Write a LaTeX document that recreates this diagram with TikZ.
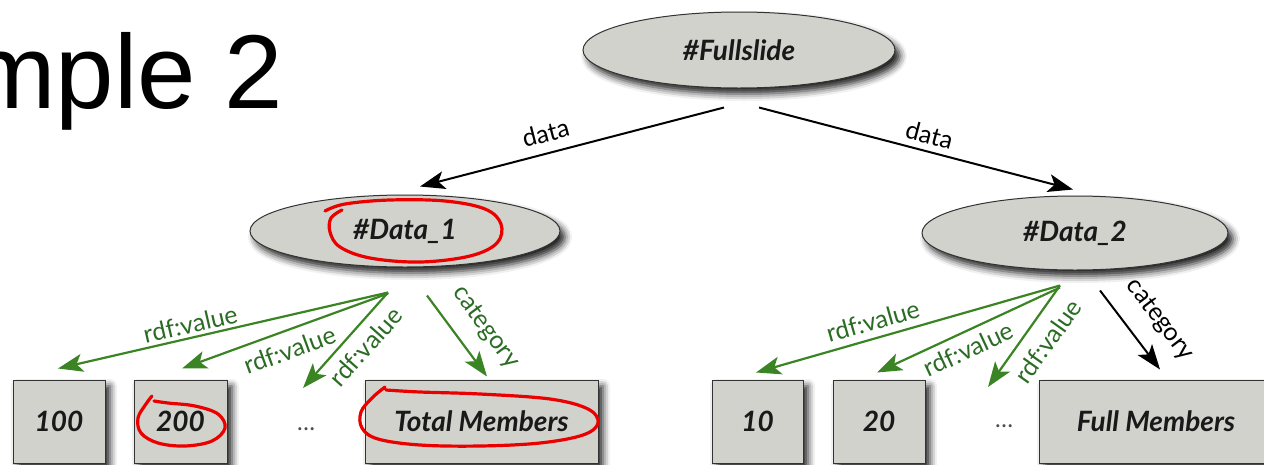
\documentclass[tikz,border=0pt]{standalone}
\usepackage{fontspec}
\setmainfont{Lato}
\newfontfamily\titlefont{Liberation Sans}
\usetikzlibrary{arrows.meta,calc,shapes.geometric,shadows.blur}

\definecolor{nodefill}{RGB}{210,210,205}
\definecolor{edgegreen}{RGB}{58,132,35}
\definecolor{labelgreen}{RGB}{42,108,35}
\definecolor{penred}{RGB}{235,0,0}

\begin{document}
\begin{tikzpicture}[x=1pt,y=-1pt,
  softshadow/.style={blur shadow={shadow xshift=5pt, shadow yshift=-6pt,
      shadow blur radius=7pt, shadow opacity=88}},
  resource/.style={ellipse, draw=black!80, line width=1pt, fill=nodefill,
      softshadow, inner sep=0pt, text=black!90,
      font=\fontsize{28}{30}\selectfont\bfseries\itshape},
  literal/.style={rectangle, draw=black!80, line width=1pt, fill=nodefill,
      softshadow, inner sep=0pt, minimum height=83pt, text=black!90,
      font=\fontsize{28}{30}\selectfont\bfseries\itshape},
  gap/.style={inner sep=0pt, text=black!70, font=\fontsize{24}{26}\selectfont},
  tip/.style={-{Stealth[length=25pt,width=18pt,inset=6pt]}},
  blackedge/.style={draw=black, line width=2pt, tip},
  greenedge/.style={draw=edgegreen, line width=2.2pt, tip},
  edgelabel/.style={sloped, inner sep=4pt, font=\fontsize{25}{27}\selectfont},
  greenlabel/.style={edgelabel, text=labelgreen},
  penmark/.style={draw=penred, line width=3.2pt, line cap=round, line join=round},
]
\useasboundingbox (0,0) rectangle (1264,464);
\clip (0,0) rectangle (1264,464);

% slide title
\node[anchor=base west, inner sep=0pt, font=\titlefont\fontsize{105}{110}\selectfont]
  (title) at (-32,108) {mple 2};

% resources
\node[resource, minimum width=312pt, minimum height=76pt] (full) at (739,50) {\#Fullslide};
\node[resource, minimum width=310pt, minimum height=72pt] (d1) at (405,231) {\#Data\_1};
\node[resource, minimum width=306pt, minimum height=74pt] (d2) at (1075,233) {\#Data\_2};

% literals
\node[literal, minimum width=92pt]  (b100) at (59,421.5)   {100};
\node[literal, minimum width=93pt]  (b200) at (180.5,421.5) {200};
\node[gap] (e1) at (306,429) {\dots};
\node[literal, minimum width=233pt] (btm)  at (481.5,421.5) {Total Members};
\node[literal, minimum width=91pt]  (b10)  at (757.5,421.5) {10};
\node[literal, minimum width=92pt]  (b20)  at (879,421.5)   {20};
\node[gap] (e2) at (1004,426) {\dots};
\node[literal, minimum width=234pt] (bfm)  at (1156,421.5)  {Full Members};

% data links
\draw[blackedge] ($(full.south)+(-15,19)$) --
  node[edgelabel, above, pos=0.57, inner sep=10pt] {data} ($(d1.north)+(15,-8)$);
\draw[blackedge] ($(full.south)+(20,19)$) --
  node[edgelabel, above, pos=0.53, inner sep=6pt] {data} ($(d2.north)+(-2,-6)$);

% values of #Data_1
\draw[greenedge] ($(d1.south)+(-17,25)$) --
  node[greenlabel, above, pos=0.59, inner sep=3pt] {rdf:value} ($(b100.north)+(-1,-11)$);
\draw[greenedge] ($(d1.south)+(-17,26)$) --
  node[greenlabel, below, pos=0.51, inner sep=9pt] {rdf:value} ($(b200.north)+(1.5,-11)$);
\draw[greenedge] ($(d1.south)+(-17,25)$) --
  node[greenlabel, below, pos=0.43, inner sep=9pt] {rdf:value} ($(e1)+(-3,-41)$);
\draw[greenedge] ($(d1.south)+(22,28)$) --
  node[greenlabel, above, pos=0.6, inner sep=16pt] {category} ($(btm.north)+(5.5,-3)$);

% values of #Data_2
\draw[greenedge] ($(d2.south)+(-15,15)$) --
  node[greenlabel, above, pos=0.6, inner sep=7pt] {rdf:value} ($(b10.north)+(-1.5,-7)$);
\draw[greenedge] ($(d2.south)+(-15,17)$) --
  node[greenlabel, below, pos=0.54, inner sep=7pt] {rdf:value} ($(b20.north)+(-2,-7)$);
\draw[greenedge] ($(d2.south)+(-15,15)$) --
  node[greenlabel, below, pos=0.42, inner sep=12pt] {rdf:value} ($(e2)+(-16,-39)$);
\draw[blackedge] ($(d2.south)+(25,20)$) --
  node[edgelabel, above, pos=0.6, inner sep=18pt] {category} ($(bfm.north)+(4,-10)$);

% hand-drawn pen marks
\draw[penmark] plot[smooth, tension=0.6] coordinates {
  (325,211) (345,204) (390,200) (445,201) (485,209) (501,224) (497,243)
  (470,256) (420,262) (370,258) (340,247) (330,232) (331,218) (342,210)};
\draw[penmark] plot[smooth, tension=0.6] coordinates {
  (152,396) (146,404) (138,418) (141,433) (158,443) (185,446) (212,441)
  (225,428) (218,414) (195,406) (168,403) (154,401)};
\draw[penmark] plot[smooth, tension=0.6] coordinates {
  (385,387) (372,398) (361,412) (362,428) (378,439) (420,445) (480,446)
  (540,443) (583,435) (598,423) (588,409) (550,399) (480,394) (420,392) (386,390)};
\end{tikzpicture}
\end{document}
